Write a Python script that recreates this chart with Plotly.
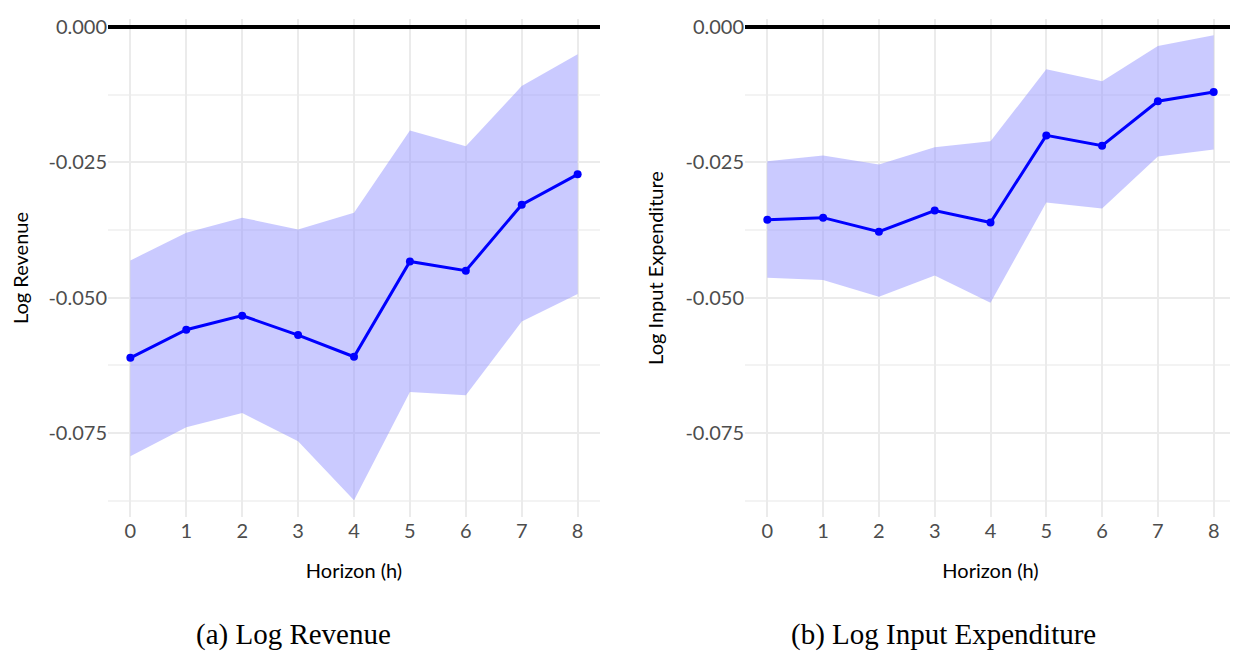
import plotly.graph_objects as go

h = list(range(9))
rev = [-0.0611, -0.0559, -0.0533, -0.0569, -0.0609, -0.0433, -0.0450, -0.0328, -0.0272]
rev_hi = [-0.0431, -0.0380, -0.0352, -0.0374, -0.0343, -0.0191, -0.0220, -0.0109, -0.0050]
rev_lo = [-0.0793, -0.0739, -0.0713, -0.0765, -0.0874, -0.0674, -0.0680, -0.0544, -0.0493]
inp = [-0.0356, -0.0352, -0.0378, -0.0339, -0.0361, -0.0200, -0.0219, -0.0137, -0.0120]
inp_hi = [-0.0248, -0.0237, -0.0254, -0.0222, -0.0211, -0.0078, -0.0100, -0.0035, -0.0015]
inp_lo = [-0.0463, -0.0467, -0.0498, -0.0459, -0.0509, -0.0324, -0.0335, -0.0239, -0.0226]
yticks = [0.0, -0.025, -0.05, -0.075]
ylabels = ["0.000", "-0.025", "-0.050", "-0.075"]

W, H = 1238, 654
fig = go.Figure()
panels = [(rev, rev_hi, rev_lo, "x", "y"), (inp, inp_hi, inp_lo, "x2", "y2")]
for est, hi, lo, xa, ya in panels:
    fig.add_trace(go.Scatter(x=h + h[::-1], y=hi + lo[::-1], fill="toself", mode="lines",
                             fillcolor="rgba(150,150,255,0.5)", line=dict(width=0),
                             hoverinfo="skip", xaxis=xa, yaxis=ya, showlegend=False))
    fig.add_trace(go.Scatter(x=[-0.4, 8.4], y=[0, 0], mode="lines", line=dict(color="black", width=4),
                             xaxis=xa, yaxis=ya, showlegend=False))
    fig.add_trace(go.Scatter(x=h, y=est, mode="lines+markers", line=dict(color="#0000ff", width=3),
                             marker=dict(color="#0000ff", size=8), xaxis=xa, yaxis=ya, showlegend=False))

ax = dict(tickvals=h, range=[-0.4, 8.4], showgrid=True, gridcolor="#ebebeb", gridwidth=1.5,
          zeroline=False, tickfont=dict(size=20, color="#4d4d4d"), showline=False, automargin=False,
          title=dict(text="Horizon (h)", font=dict(size=20, color="black"), standoff=2))
ay = dict(tickvals=yticks, ticktext=ylabels, range=[-0.0905, 0.0015], showgrid=True, automargin=False,
          gridcolor="#ebebeb", gridwidth=1.5, zeroline=False, minor=dict(dtick=0.0125, showgrid=True, gridcolor="#f3f3f3"),
          tickfont=dict(size=20, color="#4d4d4d"))
x1 = [100 / W, 592 / W]
x2 = [737 / W, 1228 / W]
yd = [(654 - 509) / H, (654 - 11) / H]
fig.update_layout(
    width=W, height=H, plot_bgcolor="white", paper_bgcolor="white",
    margin=dict(l=0, r=0, t=0, b=0), font=dict(family="Lato"),
    xaxis=dict(ax, domain=x1, anchor="y"),
    yaxis=dict(ay, domain=yd, anchor="x", title=dict(text="Log Revenue", font=dict(size=20, color="black"), standoff=6)),
    xaxis2=dict(ax, domain=x2, anchor="y2"),
    yaxis2=dict(ay, domain=yd, anchor="x2", title=dict(text="Log Input Expenditure", font=dict(size=20, color="black"), standoff=6)),
    annotations=[
        dict(text="(a) Log Revenue", x=285 / W, y=(654 - 645) / H, xref="paper", yref="paper", xanchor="center",
             showarrow=False, font=dict(family="Liberation Serif", size=29, color="black")),
        dict(text="(b) Log Input Expenditure", x=935 / W, y=(654 - 645) / H, xref="paper", yref="paper", xanchor="center",
             showarrow=False, font=dict(family="Liberation Serif", size=29, color="black")),
    ],
)
fig.update_xaxes(title_standoff=22)
fig.update_yaxes(title_standoff=16)
fig.write_html("out.html")
